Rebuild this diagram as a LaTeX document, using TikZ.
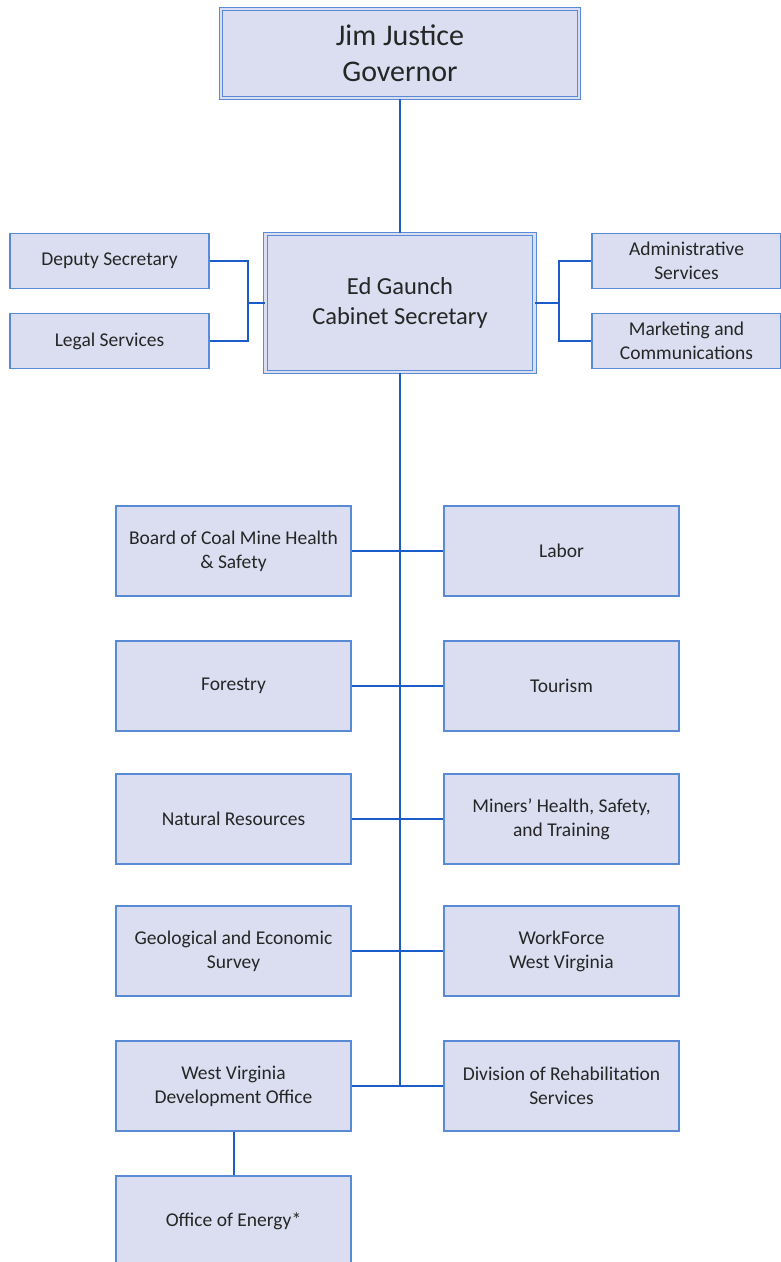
\documentclass[tikz,border=0pt]{standalone}
\usepackage{fontspec}
\setmainfont{Carlito}
\definecolor{boxfill}{RGB}{218,222,240}
\definecolor{boxline}{RGB}{88,138,214}
\definecolor{linkblue}{RGB}{28,92,200}
\begin{document}
\begin{tikzpicture}[x=1pt,y=-1pt,
	unit/.style={draw=boxline, fill=boxfill, line width=1.3pt, align=center, inner sep=2pt,
		font=\fontsize{19.5}{24}\selectfont, text=black!85},
	dept/.style={unit, minimum width=235pt, minimum height=90pt},
	staff/.style={unit, minimum height=55pt},
	head/.style={unit, double=boxfill, double distance=2.2pt, line width=1.2pt},
	conn/.style={linkblue, line width=2pt}]
	\useasboundingbox (0,0) rectangle (781,1262);
	\clip (0,0) rectangle (781,1262);
	\node [head, minimum width=358pt, minimum height=89pt, font=\fontsize{30}{36}\selectfont] (gov) at (400,53.5) {Jim Justice\\Governor};
	\node [head, minimum width=269pt, minimum height=138pt, font=\fontsize{24.5}{30}\selectfont] (cab) at (400,303) {Ed Gaunch\\Cabinet Secretary};

	\node [staff, minimum width=199pt] (deputy) at (109.5,261) {Deputy Secretary};
	\node [staff, minimum width=199pt] (legal) at (109.5,341) {Legal Services};
	\node [staff, minimum width=189pt] (admin) at (686.5,261) {Administrative\\Services};
	\node [staff, minimum width=189pt] (mkt) at (686.5,341) {Marketing and\\Communications};

	\node [dept] (coal) at (233.5,551) {Board of Coal Mine Health\\\& Safety};
	\node [dept] (labor) at (561.5,551) {Labor};
	\node [dept] (forest) at (233.5,686) {Forestry};
	\node [dept] (tour) at (561.5,686) {Tourism};
	\node [dept] (natres) at (233.5,819) {Natural Resources};
	\node [dept] (miners) at (561.5,819) {Miners' Health, Safety,\\and Training};
	\node [dept] (geo) at (233.5,951) {Geological and Economic\\Survey};
	\node [dept] (wfwv) at (561.5,951) {WorkForce\\West Virginia};
	\node [dept] (wvdo) at (233.5,1086) {West Virginia\\Development Office};
	\node [dept] (rehab) at (561.5,1086) {Division of Rehabilitation\\Services};
	\node [dept] (energy) at (233.5,1221) {Office of Energy*};

	\coordinate (trunk) at (400,1086);
	\draw [conn] (gov) -- (cab);
	\draw [conn] (cab.south) -- (trunk);
	\draw [conn] (deputy.east) -- ++(38,0) |- (legal.east);
	\draw [conn] (cab.west) -- ++(-17,0);
	\draw [conn] (admin.west) -- ++(-32,0) |- (mkt.west);
	\draw [conn] (cab.east) -- ++(25,0);
	\draw [conn] (coal) -- (labor);
	\draw [conn] (forest) -- (tour);
	\draw [conn] (natres) -- (miners);
	\draw [conn] (geo) -- (wfwv);
	\draw [conn] (wvdo) -- (rehab);
	\draw [conn] (wvdo) -- (energy);
\end{tikzpicture}
\end{document}
